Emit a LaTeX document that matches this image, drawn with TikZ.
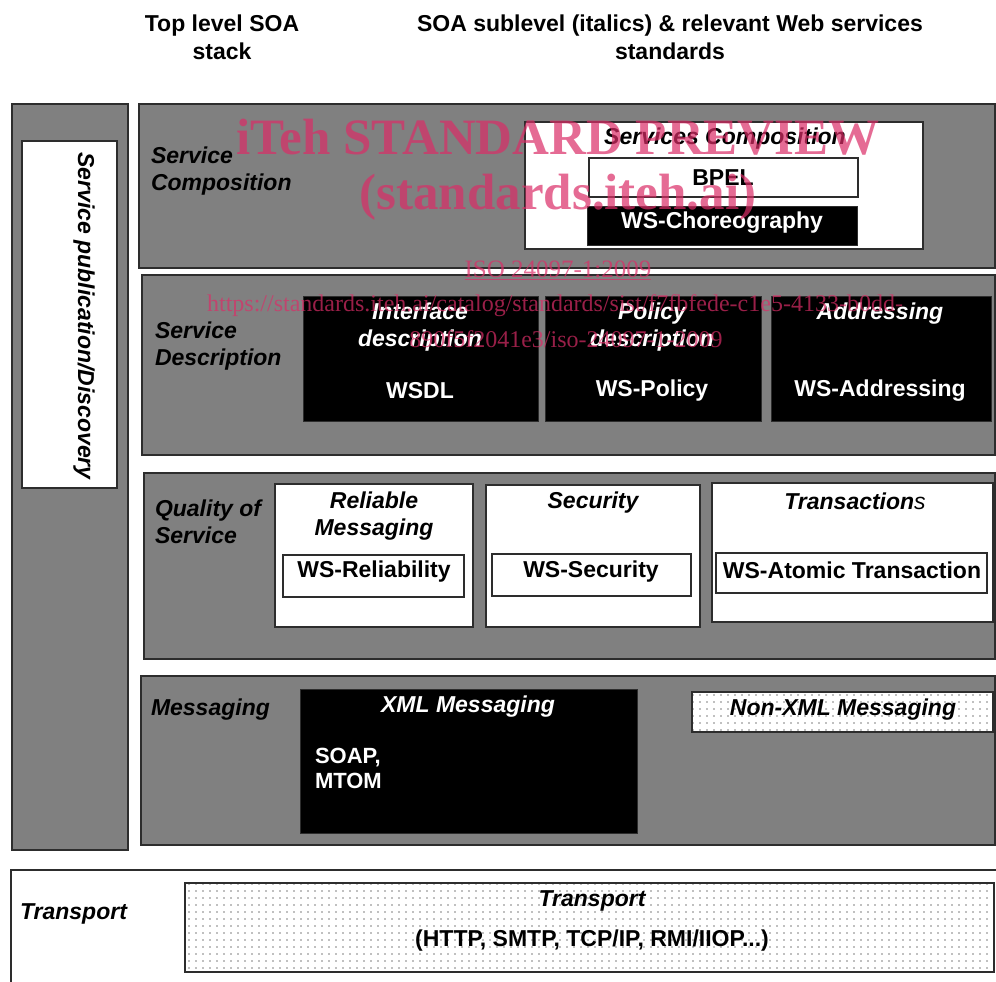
\documentclass[tikz,border=0pt]{standalone}
\usepackage{fontspec}
\setmainfont{Liberation Sans}
\newfontfamily\wmfont{Liberation Serif}
\usetikzlibrary{patterns.meta}
\definecolor{bandgray}{RGB}{128,128,128}
\definecolor{edgecol}{RGB}{45,45,45}
\definecolor{wmcol}{RGB}{219,45,103}
\tikzset{
  every node/.style={inner sep=0pt, outer sep=0pt},
  band/.style={draw=edgecol, line width=1.6pt, fill=bandgray, anchor=north west},
  wbox/.style={draw=edgecol, line width=1.4pt, fill=white, anchor=north west},
  bbox/.style={draw=edgecol, line width=1pt, fill=black, anchor=north west},
  dotbox/.style={draw=edgecol, line width=1.4pt, preaction={fill=white},
    pattern={Dots[distance=7pt,radius=0.85pt]}, pattern color=black!50, anchor=north west},
  bi/.style={font=\fontsize{23}{27}\selectfont\bfseries\itshape, align=center},
  bu/.style={font=\fontsize{23}{27}\selectfont\bfseries, align=center},
  lbl/.style={font=\fontsize{23}{27}\selectfont\bfseries\itshape, align=left, anchor=west},
  wmbig/.style={font=\wmfont\fontsize{51}{56}\selectfont\bfseries, text=wmcol, text opacity=0.7},
  wmsmall/.style={font=\wmfont\fontsize{24}{28}\selectfont, text=wmcol, text opacity=0.7},
}
\begin{document}
\begin{tikzpicture}[x=1pt,y=-1pt]
\useasboundingbox (0,0) rectangle (996,982);
\clip (0,0) rectangle (996,982);
\fill[white] (0,0) rectangle (996,982);

% headers
\node[bu, font=\fontsize{23}{28}\selectfont\bfseries] (hdrA) at (222,37) {Top level SOA\\stack};
\node[bu, font=\fontsize{23}{28}\selectfont\bfseries] (hdrB) at (670,37) {SOA sublevel (italics) \& relevant Web services\\standards};

% left column
\node[band, minimum width=116, minimum height=746] (leftcol) at (12,104) {};
\node[wbox, minimum width=95, minimum height=347] (pubbox) at (22,141) {};
\node[bi, rotate=-90] (pubtxt) at (84,316) {Service publication/Discovery};

% Service composition band
\node[band, minimum width=856, minimum height=164] (compband) at (139,104) {};
\node[lbl] (complbl) at (151,171) {Service\\Composition};
\node[wbox, minimum width=398, minimum height=127] (compbox) at (525,122) {};
\node[bi] (comptitle) at (725,139) {Services Composition};
\node[wbox, line width=1.2pt, minimum width=269, minimum height=39] (bpel) at (589,158) {};
\node[bu] (bpeltxt) at (723,178) {BPEL};
\node[bbox, minimum width=270, minimum height=39] (chor) at (587,206) {};
\node[bu, text=white] (chortxt) at (722,223) {WS-Choreography};

% Service description band
\node[band, minimum width=853, minimum height=180] (descband) at (142,275) {};
\node[lbl] (desclbl) at (155,346) {Service\\Description};
\node[bbox, minimum width=235, minimum height=125] (iface) at (303,296) {};
\node[bi, text=white] (ifacet) at (420,327) {Interface\\description};
\node[bu, text=white] (wsdl) at (420,391) {WSDL};
\node[bbox, minimum width=216, minimum height=125] (policy) at (545,296) {};
\node[bi, text=white] (policyt) at (652,327) {Policy\\description};
\node[bu, text=white] (wspol) at (652,391) {WS-Policy};
\node[bbox, minimum width=220, minimum height=125] (addr) at (771,296) {};
\node[bi, text=white] (addrt) at (880,314) {Addressing};
\node[bu, text=white] (wsaddr) at (880,391) {WS-Addressing};

% Quality of service band
\node[band, minimum width=851, minimum height=186] (qosband) at (144,473) {};
\node[lbl] (qoslbl) at (155,522) {Quality of\\Service};
\node[wbox, minimum width=198, minimum height=143] (rel) at (275,484) {};
\node[bi] (relt) at (374,516) {Reliable\\Messaging};
\node[wbox, line width=1.2pt, minimum width=181, minimum height=42] (relin) at (283,555) {};
\node[bu] (relint) at (374,572) {WS-Reliability};
\node[wbox, minimum width=214, minimum height=142] (sec) at (486,485) {};
\node[bi] (sect) at (593,503) {Security};
\node[wbox, line width=1.2pt, minimum width=199, minimum height=42] (secin) at (492,554) {};
\node[bu] (secint) at (591,572) {WS-Security};
\node[wbox, minimum width=281, minimum height=139] (trans) at (712,483) {};
\node[bi] (transt) at (855,501) {Transaction{\mdseries s}};
\node[wbox, line width=1.2pt, minimum width=271, minimum height=40] (transin) at (716,553) {};
\node[bu] (transint) at (852,570) {WS-Atomic Transaction};

% Messaging band
\node[band, minimum width=854, minimum height=169] (msgband) at (141,676) {};
\node[lbl] (msglbl) at (151,710) {Messaging};
\node[bbox, minimum width=337, minimum height=144] (xml) at (300,689) {};
\node[bi, text=white] (xmlt) at (468,707) {XML Messaging};
\node[bu, text=white, align=left, anchor=west, font=\fontsize{22}{25}\selectfont\bfseries] (soap) at (315,768) {SOAP,\\MTOM};
\node[dotbox, minimum width=301, minimum height=40] (nonxml) at (692,692) {};
\node[bi] (nonxmlt) at (843,710) {Non-XML Messaging};

% Transport
\node[wbox, minimum width=995, minimum height=130] (transport) at (11,870) {};
\node[lbl] (translbl) at (20,914) {Transport};
\node[dotbox, minimum width=809, minimum height=89] (tdot) at (185,883) {};
\node[bi] (tdott) at (592,901) {Transport};
\node[bu] (tproto) at (592,941) {(HTTP, SMTP, TCP/IP, RMI/IIOP...)};

% watermark
\node[wmbig] (wm1) at (558,137) {iTeh STANDARD PREVIEW};
\node[wmbig] (wm2) at (558,197) {(standards.iteh.ai)};
\node[wmsmall, font=\wmfont\fontsize{25}{28}\selectfont] (wm3) at (558,270) {\underline{ISO 24097-1:2009}};
\node[wmsmall] (wm4) at (555,306) {https://standards.iteh.ai/catalog/standards/sist/f7fbfede-c1e5-4133-b0dd-};
\node[wmsmall] (wm5) at (566,339) {890f5f2041e3/iso-24097-1-2009};
\end{tikzpicture}
\end{document}
